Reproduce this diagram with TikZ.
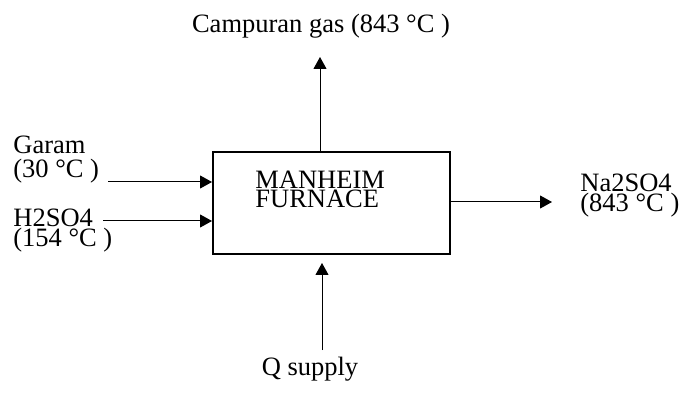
\documentclass[tikz,border=0pt]{standalone}
\usepackage{fontspec}
\setmainfont{Liberation Serif}
\usepackage{tikz}
\usetikzlibrary{arrows.meta}

\begin{document}
\begin{tikzpicture}[
  x=0.5pt, y=-0.5pt,
  furnace/.style={draw, line width=1pt, minimum width=118.5pt, minimum height=51pt, inner sep=0pt},
  lbl/.style={inner sep=0pt, align=left},
  arr/.style={-{Triangle[length=6pt,width=6.5pt]}, line width=0.5pt},
]
  \useasboundingbox (0,0) rectangle (681,401);

  \node[furnace] (furnace) at (331.5,203) {};
  \node[lbl, anchor=base west, font=\fontsize{13.25}{9.5}\selectfont] (furnacetxt) at (255,208) {MANHEIM\\FURNACE};

  % feed streams
  \node[lbl, anchor=base west, font=\fontsize{13.25}{12.5}\selectfont] (garam) at (13,178) {Garam\\(30 °C )};
  \node[lbl, anchor=base west, font=\fontsize{13.25}{10}\selectfont] (asam) at (13,247) {H2SO4\\(154 °C )};
  \coordinate (garamin) at (108,182);
  \coordinate (asamin) at (103,221);
  \draw[arr] (garamin) -- (garamin -| furnace.west);
  \draw[arr] (asamin) -- (asamin -| furnace.west);

  % products
  \node[lbl, anchor=base west, font=\fontsize{13.25}{10}\selectfont] (produk) at (580,212) {Na2SO4\\(843 °C )};
  \coordinate (produkout) at (552,202);
  \draw[arr] (produkout -| furnace.east) -- (produkout);

  \node[lbl, anchor=base, font=\fontsize{13.25}{14}\selectfont] (gas) at (321,33) {Campuran gas (843 °C )};
  \coordinate (gasout) at (320,57);
  \draw[arr] (gasout |- furnace.north) -- (gasout);

  % heat
  \node[lbl, anchor=base, font=\fontsize{13.25}{14}\selectfont] (panas) at (310,375) {Q supply};
  \coordinate (panasin) at (322,350);
  \draw[arr, shorten >=4pt] (panasin) -- (panasin |- furnace.south);
\end{tikzpicture}
\end{document}
